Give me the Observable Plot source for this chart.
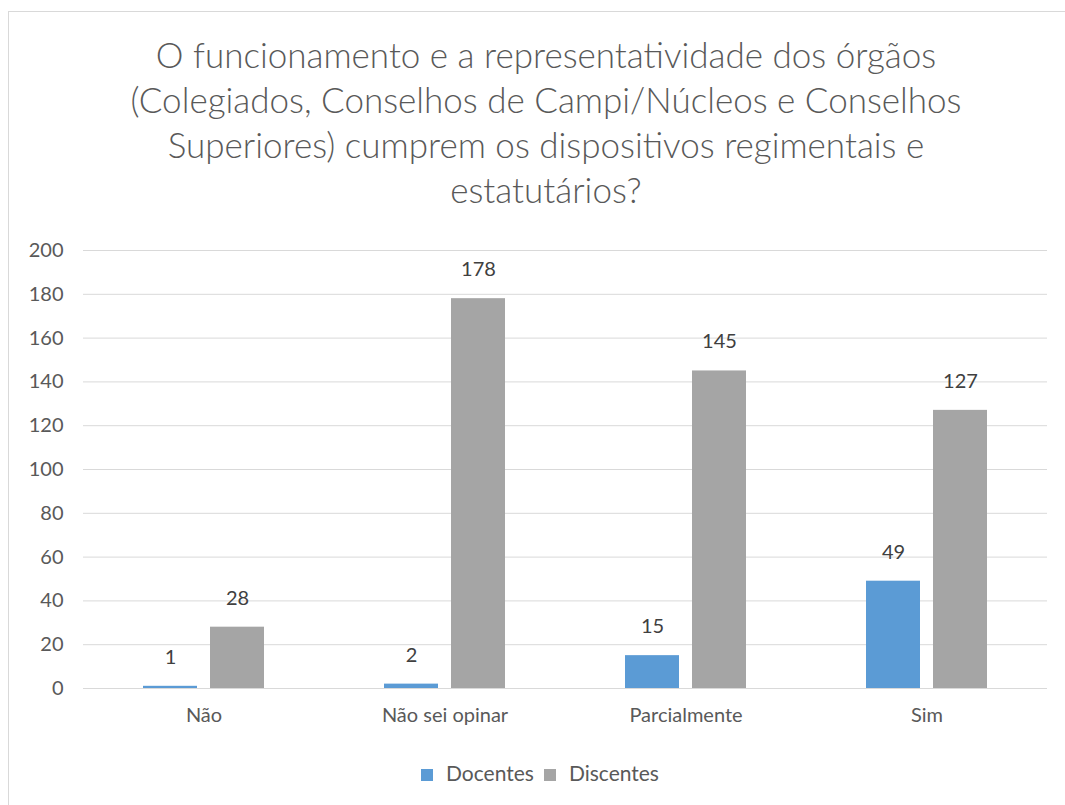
<!DOCTYPE html>
<html>
<head>
<meta charset="utf-8">
<script src="https://cdn.jsdelivr.net/npm/d3@7"></script>
<script src="https://cdn.jsdelivr.net/npm/@observablehq/plot@0.6"></script>
<style>
  html, body { margin: 0; padding: 0; background: #fff; width: 1065px; height: 805px; overflow: hidden; font-family: Lato, "Open Sans", sans-serif; }
  #topline { position: absolute; left: 8px; top: 11px; width: 1057px; height: 1px; background: #D9D9D9; }
  #leftline { position: absolute; left: 8px; top: 11px; width: 1px; height: 794px; background: #D9D9D9; }
  #title { position: absolute; left: 0; top: 32px; width: 1092px; text-align: center; font-size: 35px; font-weight: 300; line-height: 45px; color: #595959; }
  #chart { position: absolute; left: 0; top: 230px; }
  #legend { position: absolute; left: 0; top: 760px; width: 1080px; text-align: center; font-size: 21px; line-height: 26px; color: #595959; }
  #legend span.sw { display: inline-block; width: 12px; height: 12px; margin-right: 13px; vertical-align: 0px; }
  #legend span.item { margin: 0 5px; }
</style>
</head>
<body>
<div id="topline"></div>
<div id="leftline"></div>
<div id="title">O funcionamento e a representatividade dos órgãos<br>(Colegiados, Conselhos de Campi/Núcleos e Conselhos<br>Superiores) cumprem os dispositivos regimentais e<br>estatutários?</div>
<div id="chart"></div>
<div id="legend"></div>
<script>
const categories = ["Não", "Não sei opinar", "Parcialmente", "Sim"];
const seriesNames = ["Docentes", "Discentes"];
const docentes = [1, 2, 15, 49];
const discentes = [28, 178, 145, 127];
const seriesColors = ["#5B9BD5", "#A5A5A5"];
const yTicks = [0, 20, 40, 60, 80, 100, 120, 140, 160, 180, 200];

const data = [];
categories.forEach((c, i) => {
  data.push({category: c, series: seriesNames[0], value: docentes[i]});
  data.push({category: c, series: seriesNames[1], value: discentes[i]});
});

const chart = Plot.plot({
  width: 1065,
  height: 510,
  marginLeft: 82,
  marginRight: 17,
  marginTop: 20,
  marginBottom: 52,
  style: {fontFamily: "Lato, 'Open Sans', sans-serif", fontSize: "20px", color: "#595959", background: "transparent"},
  fx: {domain: categories, padding: 0, label: null, tickSize: 0, tickPadding: 19, axis: "bottom", fontSize: 21},
  x: {domain: seriesNames, paddingInner: 0.2, paddingOuter: 0.88, axis: null},
  y: {domain: [0, 200], ticks: yTicks, label: null, tickSize: 0, tickPadding: 20},
  color: {domain: seriesNames, range: seriesColors},
  marks: [
    Plot.ruleY(yTicks, {stroke: "#D9D9D9", strokeWidth: 1}),
    Plot.barY(data, {fx: "category", x: "series", y: "value", fill: "series"}),
    Plot.text(data, {fx: "category", x: "series", y: "value", text: d => String(d.value), dy: -29, fill: "#404040", fontSize: 20})
  ]
});
document.getElementById("chart").appendChild(chart);

const legend = document.getElementById("legend");
seriesNames.forEach((s, i) => {
  const item = document.createElement("span");
  item.className = "item";
  const sw = document.createElement("span");
  sw.className = "sw";
  sw.style.background = seriesColors[i];
  item.appendChild(sw);
  item.appendChild(document.createTextNode(s));
  legend.appendChild(item);
});
</script>
</body>
</html>
